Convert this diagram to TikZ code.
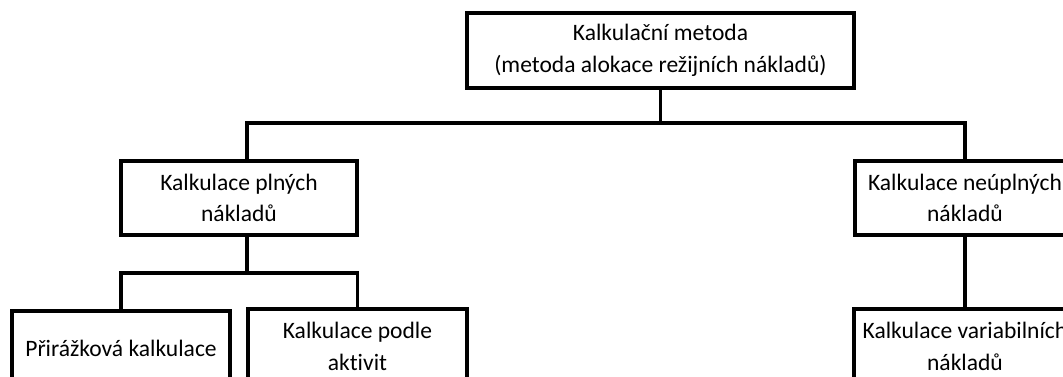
\documentclass[tikz,border=0pt]{standalone}
\usepackage{fontspec}
\setmainfont{Carlito}[Ligatures=NoCommon]
\usetikzlibrary{calc}
\tikzset{
  box/.style={draw=black,line width=2.2pt,fill=white,inner sep=0pt,align=center,
    font=\fontsize{13.4}{18}\selectfont},
  spoj/.style={line width=2.2pt}
}
\begin{document}
\begin{tikzpicture}[x=.02cm,y=-.02cm]
\useasboundingbox (0,0) rectangle (1063,376);
%boxes
\node[box,minimum width=7.74cm,minimum height=1.5cm](metoda)at(660.5,50.5){Kalkulační metoda\\(metoda alokace režijních nákladů)};
\node[box,minimum width=4.72cm,minimum height=1.48cm](plne)at(239,198){Kalkulace plných\\nákladů};
\node[box,minimum width=4.4cm,minimum height=1.48cm](neuplne)at(965,198){Kalkulace neúplných\\nákladů};
\node[box,minimum width=4.36cm,minimum height=1.5cm](prirazkova)at(121,348.5){Přirážková kalkulace};
\node[box,minimum width=4.38cm,minimum height=1.5cm](aktivity)at(357.5,346.5){Kalkulace podle\\aktivit};
\node[box,minimum width=4.44cm,minimum height=1.5cm](variabilni)at(965,346.5){Kalkulace variabilních\\nákladů};
%connectors
\coordinate(rozdel)at(660.5,123);
\coordinate(rozdel2)at(247,273);
\draw[spoj](metoda.south)--(rozdel);
\draw[spoj]([xshift=.16cm]plne.north)|-(rozdel)-|(neuplne.north);
\draw[spoj]([xshift=.16cm]plne.south)--(rozdel2);
\draw[spoj](prirazkova.north)|-(rozdel2)-|(aktivity.north);
\draw[spoj](neuplne.south)--(variabilni.north);
\end{tikzpicture}
\end{document}
